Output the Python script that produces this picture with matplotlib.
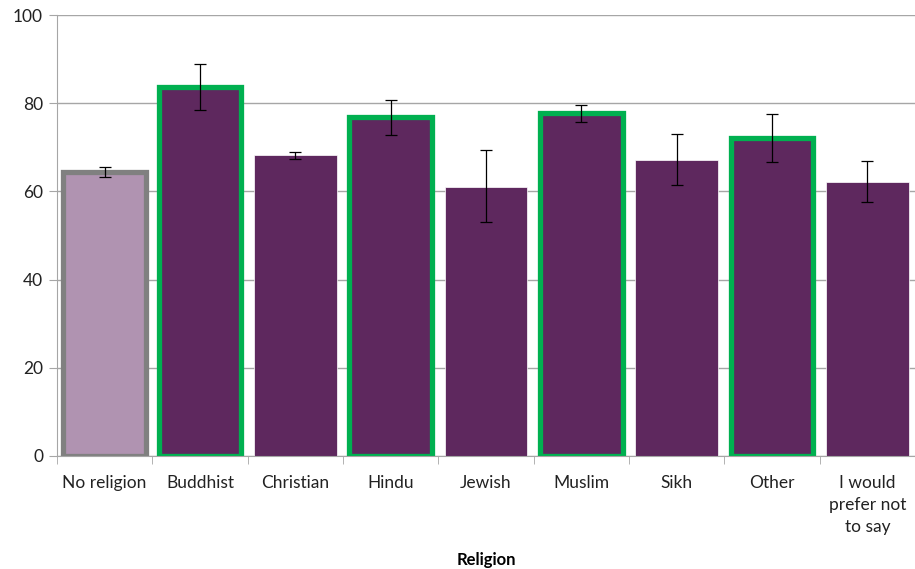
import numpy as np
import matplotlib.pyplot as plt

plt.rcParams['font.family'] = ['Lato', 'DejaVu Sans']

religions = ['No religion', 'Buddhist', 'Christian', 'Hindu', 'Jewish',
             'Muslim', 'Sikh', 'Other', 'I would\nprefer not\nto say']
values = [64.5, 83.6, 68.2, 76.9, 61.1, 77.7, 67.1, 72.1, 62.2]
err_high = [65.5, 89.0, 69.0, 80.8, 69.4, 79.7, 73.1, 77.6, 66.9]
err_low = [63.3, 78.5, 67.3, 72.9, 53.0, 75.7, 61.5, 66.6, 57.5]
# which bars get a highlighted outline
outline = ['grey', 'green', None, 'green', None, 'green', None, 'green', None]

purple = '#5e285e'
light_purple = '#b093b1'
green = '#00b050'
grey = '#808080'

x = np.arange(len(religions))
vals = np.array(values)
yerr = [vals - np.array(err_low), np.array(err_high) - vals]

fig = plt.figure(figsize=(9.15, 5.69), dpi=100)
ax = fig.add_axes([0.0623, 0.1986, 0.9377, 0.775])

for i in range(len(x)):
    face = light_purple if i == 0 else purple
    if outline[i] == 'green':
        ax.bar(x[i], vals[i], width=0.87, color=face, edgecolor=green,
               linewidth=3.8, zorder=2)
    elif outline[i] == 'grey':
        ax.bar(x[i], vals[i], width=0.87, color=face, edgecolor=grey,
               linewidth=3.8, zorder=2)
    else:
        ax.bar(x[i], vals[i], width=0.87, color=face, edgecolor='white',
               linewidth=0.5, zorder=2)

ax.errorbar(x, vals, yerr=yerr, fmt='none', ecolor='black', elinewidth=0.9,
            capsize=4, capthick=0.9, zorder=3)

ax.set_xlim(-0.5, len(x) - 0.5)
ax.set_ylim(0, 100)
ax.set_yticks([0, 20, 40, 60, 80, 100])
ax.yaxis.grid(True, color='#a6a6a6', linewidth=1)
ax.set_axisbelow(True)

ax.set_xticks(x)
ax.set_xticklabels(religions, fontsize=12.5, color='#222222', linespacing=1.45)
ax.set_xticks(np.arange(-0.5, len(x)), minor=True)
ax.tick_params(axis='x', which='major', length=0, pad=14)
ax.tick_params(axis='x', which='minor', length=6, color='#a6a6a6')
ax.tick_params(axis='y', length=6, color='#a6a6a6', labelsize=12.5,
               labelcolor='#222222', pad=4)

for s in ['top', 'right']:
    ax.spines[s].set_visible(False)
ax.spines['left'].set_color('#a6a6a6')
ax.spines['bottom'].set_color('#a6a6a6')

ax.set_xlabel('Religion', fontsize=12, fontweight='bold', labelpad=12)

fig.savefig('out.png', dpi=100)
